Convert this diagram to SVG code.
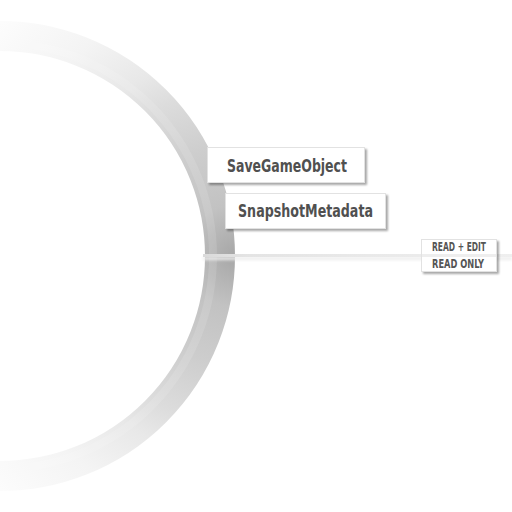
<svg xmlns="http://www.w3.org/2000/svg" width="512" height="512" viewBox="0 0 512 512">
<style>
.box{fill:#ffffff;stroke:#e2e2e2;stroke-width:1;filter:url(#sh)}
.lbl{font-family:"DejaVu Sans Condensed","Liberation Sans",sans-serif;font-weight:bold;fill:#505050}
.small{font-family:"DejaVu Sans Condensed","Liberation Sans",sans-serif;font-weight:bold;fill:#555555}
</style>
<defs>
<radialGradient id="ringG" gradientUnits="userSpaceOnUse" cx="236" cy="256" r="340">
<stop offset="0" stop-color="#a6a6a6"/>
<stop offset="0.15" stop-color="#c2c2c2"/>
<stop offset="0.32" stop-color="#cdcdcd"/>
<stop offset="0.49" stop-color="#dcdcdc"/>
<stop offset="0.59" stop-color="#e8e8e8"/>
<stop offset="0.76" stop-color="#f4f4f4"/>
<stop offset="1" stop-color="#fdfdfd"/>
</radialGradient>
<linearGradient id="lineG" gradientUnits="userSpaceOnUse" x1="203" y1="0" x2="512" y2="0">
<stop offset="0" stop-color="#dadada"/>
<stop offset="0.15" stop-color="#e4e4e4"/>
<stop offset="1" stop-color="#efefef"/>
</linearGradient>
<filter id="sh" x="-10%" y="-20%" width="130%" height="160%">
<feGaussianBlur in="SourceAlpha" stdDeviation="1.2"/>
<feOffset dx="1.5" dy="1.5" result="b"/>
<feComponentTransfer><feFuncA type="linear" slope="0.35"/></feComponentTransfer>
<feMerge><feMergeNode/><feMergeNode in="SourceGraphic"/></feMerge>
</filter>
<filter id="blur" x="-5%" y="-200%" width="110%" height="500%">
<feGaussianBlur stdDeviation="1.5"/>
</filter>
</defs>
<g id="ring">
<circle cx="0" cy="256" r="220" fill="none" stroke="url(#ringG)" stroke-width="30"/>
<circle cx="0" cy="256" r="213" fill="none" stroke="#ffffff" stroke-opacity="0.12" stroke-width="8"/>
</g>
<g id="connectors">
<rect x="203" y="257" width="309" height="3" fill="#ececec" filter="url(#blur)"/>
<rect x="203" y="254" width="309" height="3" fill="url(#lineG)"/>
</g>
<g id="node-savegameobject">
<rect class="box" x="207.5" y="147.5" width="157" height="35"/>
<text class="lbl" x="227" y="172" font-size="17" textLength="120" lengthAdjust="spacingAndGlyphs">SaveGameObject</text>
</g>
<g id="node-snapshotmetadata">
<rect class="box" x="225.5" y="193.5" width="160" height="35"/>
<text class="lbl" x="238" y="217" font-size="17" textLength="135" lengthAdjust="spacingAndGlyphs">SnapshotMetadata</text>
</g>
<g id="node-access">
<rect class="box" x="421.5" y="239.5" width="75" height="32"/>
<rect x="422" y="254" width="74" height="3" fill="#eeeeee"/>
<text class="small" x="432" y="251" font-size="11.5" textLength="54" lengthAdjust="spacingAndGlyphs">READ + EDIT</text>
<text class="small" x="432" y="268" font-size="11.5" textLength="52" lengthAdjust="spacingAndGlyphs">READ ONLY</text>
</g>
</svg>
